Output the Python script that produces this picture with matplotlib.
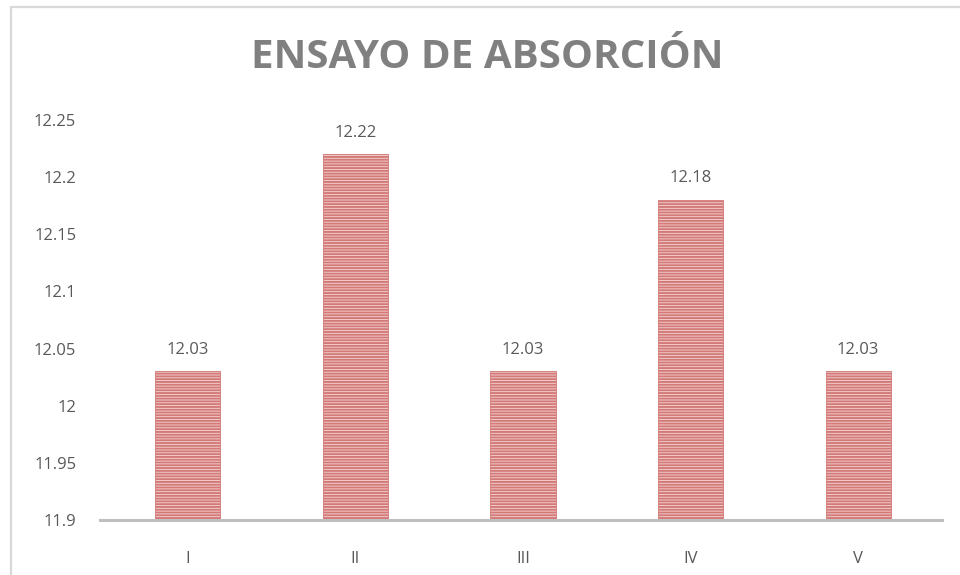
import matplotlib.pyplot as plt
from matplotlib.patches import Rectangle

# datos
categorias = ["I", "II", "III", "IV", "V"]
valores = [12.03, 12.22, 12.03, 12.18, 12.03]
ticks_y = [11.9, 11.95, 12.0, 12.05, 12.1, 12.15, 12.2, 12.25]
etiquetas_y = ["11.9", "11.95", "12", "12.05", "12.1", "12.15", "12.2", "12.25"]
titulo = "ENSAYO DE ABSORCIÓN"

plt.rcParams['font.family'] = ['Open Sans', 'DejaVu Sans']
plt.rcParams['hatch.linewidth'] = 1.4
plt.rcParams['hatch.color'] = '#c8504e'

gris = '#595959'

fig = plt.figure(figsize=(9.6, 5.75), dpi=100)
ax = fig.add_axes([104 / 960, 55 / 575, 838 / 960, 400 / 575])

x = list(range(len(categorias)))
barras = ax.bar(x, valores, width=0.39, bottom=0, color='#f7d6d6',
                edgecolor='#d27a78', hatch='------', linewidth=0.6, zorder=2)

for xi, v in zip(x, valores):
    ax.text(xi, v + 0.012, f"{v:.2f}", ha='center', va='bottom',
            fontsize=12, color=gris)

ax.set_xlim(-0.5, len(categorias) - 0.5)
ax.set_ylim(11.9, 12.25)
ax.set_xticks(x)
ax.set_xticklabels(categorias)
ax.set_yticks(ticks_y)
ax.set_yticklabels(etiquetas_y)
ax.tick_params(axis='both', length=0, labelsize=12, colors=gris)
ax.tick_params(axis='x', pad=22)
ax.tick_params(axis='y', pad=20)

for s in ['top', 'right', 'left']:
    ax.spines[s].set_visible(False)
ax.spines['bottom'].set_color('#bfbfbf')
ax.spines['bottom'].set_linewidth(2.2)
ax.spines['bottom'].set_zorder(3)
ax.spines['bottom'].set_bounds(-0.525, 4.5)

fig.text(487 / 960, 1 - 58 / 575, titulo, ha='center', va='center',
         fontsize=29, fontweight='bold', color='#808080')

# marco del gráfico
marco = Rectangle((11 / 960, -0.05), 1.0, 1 - 7 / 575 + 0.05,
                  transform=fig.transFigure, fill=False,
                  edgecolor='#d9d9d9', linewidth=1.6)
fig.patches.append(marco)

fig.savefig('out.png', dpi=100)
